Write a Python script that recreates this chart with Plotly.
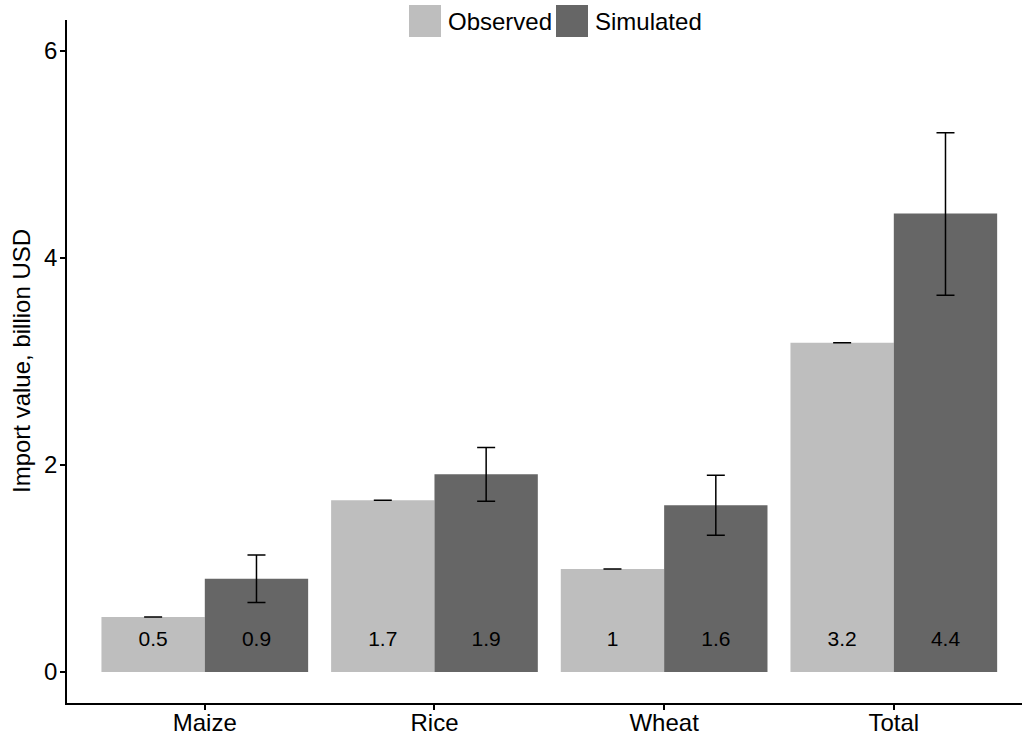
import plotly.graph_objects as go

# ---- data ----
categories = ["Maize", "Rice", "Wheat", "Total"]
observed = [0.53, 1.66, 0.995, 3.18]
simulated = [0.90, 1.91, 1.61, 4.43]
sim_low = [0.67, 1.65, 1.32, 3.64]
sim_high = [1.13, 2.17, 1.90, 5.21]
obs_err = [0.0, 0.0, 0.0, 0.0]
obs_labels = ["0.5", "1.7", "1", "3.2"]
sim_labels = ["0.9", "1.9", "1.6", "4.4"]
y_ticks = [0, 2, 4, 6]

OBS_COLOR = "#BEBEBE"
SIM_COLOR = "#666666"
FONT = "Liberation Sans, Arial, Helvetica, sans-serif"
W, H = 1022, 736
L, R, T, B = 67, 0, 20, 33
dodge = 0.225
bar_w = 0.45
label_y = 0.3
FS = 24

pos = list(range(1, len(categories) + 1))
x_obs = [p - dodge for p in pos]
x_sim = [p + dodge for p in pos]

fig = go.Figure()
fig.add_trace(go.Bar(
    x=x_obs, y=observed, width=bar_w, marker=dict(color=OBS_COLOR, line=dict(width=0)),
    name="Observed", showlegend=False,
    error_y=dict(type="data", array=obs_err, arrayminus=obs_err, symmetric=False,
                 color="black", thickness=1.5, width=9),
))
fig.add_trace(go.Bar(
    x=x_sim, y=simulated, width=bar_w, marker=dict(color=SIM_COLOR, line=dict(width=0)),
    name="Simulated", showlegend=False,
    error_y=dict(type="data", symmetric=False,
                 array=[h - v for h, v in zip(sim_high, simulated)],
                 arrayminus=[v - l for v, l in zip(simulated, sim_low)],
                 color="black", thickness=1.5, width=9),
))
fig.add_trace(go.Scatter(
    x=x_obs + x_sim, y=[label_y] * (len(x_obs) + len(x_sim)),
    text=obs_labels + sim_labels, mode="text", showlegend=False,
    textfont=dict(family=FONT, size=21, color="black"), hoverinfo="skip",
))

pw = W - L - R
ph = H - T - B
def px_x(p):
    return (p - L) / pw
def px_y(p):
    return (H - B - p) / ph

shapes = []
annotations = []
legend_items = [("Observed", OBS_COLOR, 409, 446), ("Simulated", SIM_COLOR, 556, 593)]
for name, col, sx, tx in legend_items:
    shapes.append(dict(type="rect", xref="paper", yref="paper",
                       x0=px_x(sx), x1=px_x(sx + 32), y0=px_y(37), y1=px_y(5),
                       fillcolor=col, line=dict(width=0)))
    annotations.append(dict(text=name, xref="paper", yref="paper", x=px_x(tx), y=px_y(22),
                            xanchor="left", yanchor="middle", showarrow=False,
                            font=dict(family=FONT, size=FS, color="black")))
annotations.append(dict(text="Import value, billion USD", xref="paper", yref="paper",
                        x=px_x(21), y=px_y(361), textangle=-90, xanchor="center",
                        yanchor="middle", showarrow=False,
                        font=dict(family=FONT, size=FS, color="black")))

fig.update_layout(
    width=W, height=H,
    margin=dict(l=L, r=R, t=T, b=B, pad=0),
    paper_bgcolor="white", plot_bgcolor="white",
    barmode="overlay",
    font=dict(family=FONT, size=FS, color="black"),
    shapes=shapes, annotations=annotations,
    showlegend=False,
)
fig.update_xaxes(
    range=[0.4, 0.4 + pw / 229.67], tickvals=pos, ticktext=categories,
    showline=True, linecolor="black", linewidth=1.5, ticks="outside", ticklen=5,
    tickwidth=1.5, tickcolor="black", showgrid=False, zeroline=False,
    tickfont=dict(family=FONT, size=FS, color="black"), automargin=False,
    ticklabelstandoff=-8,
)
fig.update_yaxes(
    range=[-0.3, 6.3], tickvals=y_ticks, ticktext=[str(v) for v in y_ticks],
    showline=True, linecolor="black", linewidth=1.5, ticks="outside", ticklen=5,
    tickwidth=1.5, tickcolor="black", showgrid=False, zeroline=False,
    tickfont=dict(family=FONT, size=FS, color="black"), automargin=False,
    ticklabelstandoff=-2,
)

fig.write_html("out.html")
